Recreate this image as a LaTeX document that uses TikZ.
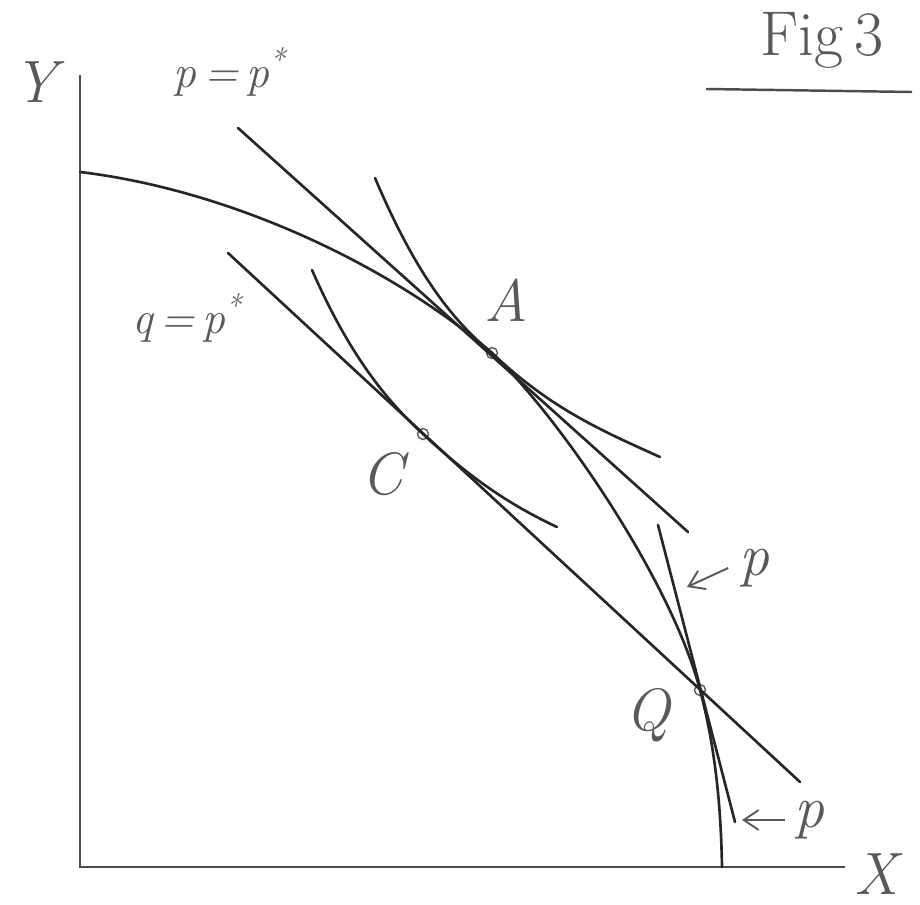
\documentclass[tikz,border=0pt]{standalone}
\usepackage{amsmath}
\usetikzlibrary{arrows.meta}

\begin{document}
\begin{tikzpicture}[
    x=0.02cm, y=-0.02cm,
    curve/.style={line width=1.5pt, draw=black!85, line cap=round},
    axis/.style={line width=1.4pt, draw=black!70},
    lab/.style={text=black!65, font=\fontsize{34}{38}\selectfont\itshape, inner sep=0pt},
    eq/.style={text=black!65, font=\fontsize{26}{30}\selectfont\itshape, inner sep=0pt},
    tanpt/.style={circle, draw=black!65, line width=0.8pt, inner sep=0pt, minimum size=2.2mm},
    pointer/.style={-{Straight Barb[length=3mm,width=4mm]}, line width=1.1pt, draw=black!65}
  ]
  \useasboundingbox (0,0) rectangle (920,905);
  % axes
  \coordinate (O) at (80,867);
  \coordinate (ytop) at (80,75);
  \coordinate (xend) at (845,867);
  \draw[axis] (ytop) -- (O) -- (xend);
  \node[lab] (ylab) at (35,82) {Y};
  \node[lab] (xlab) at (876,874) {X};

  % title
  \node[lab, font=\fontsize{36}{40}\selectfont] (fig) at (822,40) {Fig\,3};
  \coordinate (figl) at (706,89);
  \coordinate (figr) at (912,92);
  \draw[axis] (figl) -- (figr);

  % tangency points
  \node[tanpt] (A) at (492,353) {};
  \node[tanpt] (C) at (423,434) {};
  \node[tanpt] (Q) at (700,690) {};
  \node[lab] (Alab) at (506,300) {A};
  \node[lab] (Clab) at (382,474) {C};
  \node[lab] (Qlab) at (648,715) {Q};

  % production frontier
  \coordinate (ppf0) at (80,172);
  \coordinate (ppf1) at (722,867);
  \draw[curve] (ppf0) .. controls (230,190) and (390,265) .. (A.center)
    .. controls (560,418) and (671,580) .. (Q.center)
    .. controls (716,750) and (721,810) .. (ppf1);

  % price lines
  \coordinate (pa0) at (238,128);
  \coordinate (pa1) at (688,532);
  \coordinate (qc0) at (228,253);
  \coordinate (qc1) at (800,782);
  \coordinate (pq0) at (658,525);
  \coordinate (pq1) at (735,822);
  \foreach \a/\b in {pa0/pa1,qc0/qc1,pq0/pq1} \draw[curve] (\a) -- (\b);
  \node[eq] (palab) at (230,72) {p\,=\,p\textsuperscript{*}};
  \node[eq] (qclab) at (187,318) {q\,=\,p\textsuperscript{*}};

  % indifference curves
  \coordinate (ia0) at (375,178);
  \coordinate (ia1) at (660,457);
  \draw[curve] (ia0) .. controls (410,260) and (445,315) .. (A.center)
    .. controls (550,408) and (600,430) .. (ia1);
  \coordinate (ic0) at (312,270);
  \coordinate (ic1) at (557,527);
  \draw[curve] (ic0) .. controls (345,345) and (380,395) .. (C.center)
    .. controls (470,478) and (510,505) .. (ic1);

  % labels of the steep line
  \node[lab] (plab1) at (754,568) {p};
  \node[lab] (plab2) at (809,820) {p};
  \coordinate (ptip1) at (687,587);
  \coordinate (ptip2) at (742,820);
  \draw[pointer] ([xshift=-6pt]plab1.west) -- (ptip1);
  \draw[pointer] ([xshift=-5pt]plab2.west) -- (ptip2);
\end{tikzpicture}
\end{document}
